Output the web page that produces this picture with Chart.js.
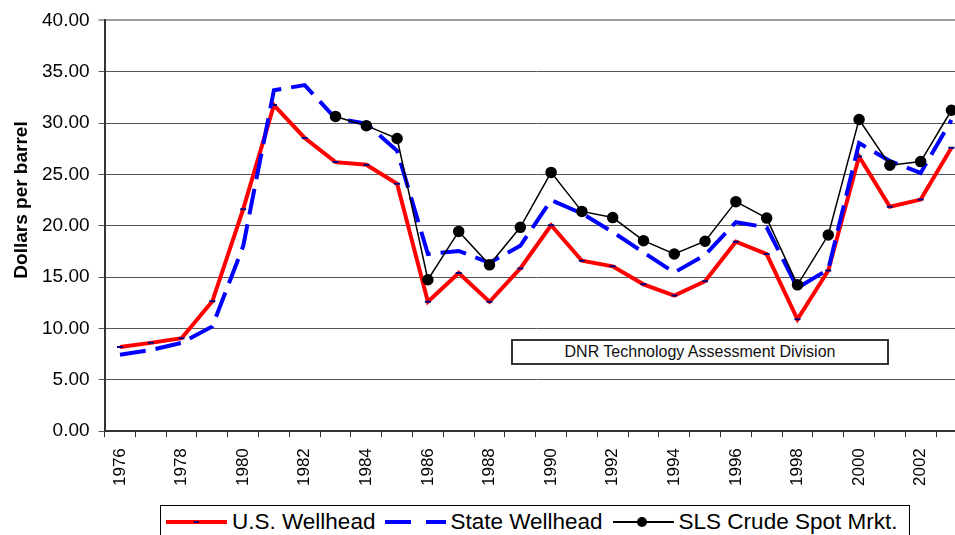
<!DOCTYPE html>
<html>
<head>
<meta charset="utf-8">
<title>Crude Oil Prices</title>
<script src="https://cdn.jsdelivr.net/npm/chart.js@4.4.1/dist/chart.umd.min.js"></script>
<style>
    body { margin: 0; background: #ffffff; font-family: "Liberation Sans", Arial, sans-serif; }
    #wrap { position: relative; width: 955px; height: 535px; overflow: hidden; background: #ffffff; }
    #chart { position: absolute; left: 0; top: 0; }
    #yTitle {
        position: absolute; left: -79px; top: 188px; width: 200px; height: 24px;
        line-height: 24px; text-align: center; font-weight: bold; font-size: 19px; color: #000;
        transform: rotate(-90deg);
    }
    #note {
        position: absolute; left: 511px; top: 339px; width: 378px; height: 26px; box-sizing: border-box;
        border: 2px solid #333; background: #fff; text-align: center; font-size: 16px; line-height: 22px; color: #111;
    }
    #legend {
        position: absolute; left: 160px; top: 505px; width: 750px; box-sizing: border-box;
        border: 1px solid #000; background: #fff; display: flex; align-items: center; padding-left: 5px;
        height: 34px; font-size: 22.5px; color: #000;
    }
    .sample { position: relative; width: 61px; height: 10px; margin-right: 5px; flex: none; }
    .txt { margin-right: 10px; white-space: nowrap; }
</style>
</head>
<body>
<div id="wrap">
    <canvas id="chart" width="983" height="535"></canvas>
    <div id="yTitle">Dollars per barrel</div>
    <div id="note">DNR Technology Assessment Division</div>
    <div id="legend"></div>
</div>
<script>
// Years on the x axis (every other one gets a label)
const years = ['1976', '1977', '1978', '1979', '1980', '1981', '1982', '1983', '1984', '1985',
    '1986', '1987', '1988', '1989', '1990', '1991', '1992', '1993', '1994', '1995',
    '1996', '1997', '1998', '1999', '2000', '2001', '2002', '2003'];

// Dollars per barrel
const usWellhead = [8.2, 8.6, 9.05, 12.65, 21.6, 31.75, 28.55, 26.2, 25.95, 24.1,
    12.6, 15.4, 12.6, 15.85, 20.05, 16.6, 16.05, 14.3, 13.2, 14.6,
    18.45, 17.25, 10.9, 15.65, 26.75, 21.85, 22.55, 27.6];
const stateWellhead = [7.45, 7.9, 8.6, 10.2, 18.0, 33.2, 33.7, 30.45, 29.95, 27.3,
    17.25, 17.55, 16.4, 18.05, 22.5, 21.2, 19.4, 17.4, 15.45, 17.15,
    20.35, 19.85, 13.95, 15.75, 28.05, 26.3, 25.15, 30.3];
const slsCrude = [null, null, null, null, null, null, null, 30.65, 29.75, 28.5,
    14.75, 19.45, 16.2, 19.85, 25.2, 21.4, 20.8, 18.55, 17.25, 18.5,
    22.35, 20.75, 14.25, 19.1, 30.35, 25.9, 26.25, 31.25];

// y axis ticks
const yMin = 0;
const yMax = 40;
const yStep = 5;

const seriesNames = ['U.S. Wellhead', 'State Wellhead', 'SLS Crude Spot Mrkt.'];

const FONT = '"Liberation Sans", Arial, sans-serif';

const buildLegend = () => {
    const legend = document.getElementById('legend');
    const samples = [
        // red line with the small navy marker
        '<div class="sample"><div style="position:absolute;left:0;top:3px;width:61px;height:4px;background:#ff0000"></div>' +
        '<div style="position:absolute;left:28px;top:4px;width:5px;height:2px;background:#000080"></div></div>',
        // blue dashes
        '<div class="sample" style="margin-right:4px"><div style="position:absolute;left:0;top:3px;width:61px;height:4px;' +
        'background:linear-gradient(to right,#0000ff 0 26px,transparent 26px 41px,#0000ff 41px 61px)"></div></div>',
        // black line with dot
        '<div class="sample"><div style="position:absolute;left:0;top:4px;width:61px;height:2px;background:#000"></div>' +
        '<div style="position:absolute;left:24px;top:0px;width:10px;height:10px;border-radius:50%;background:#000"></div></div>'
    ];
    legend.innerHTML = seriesNames.map((name, i) => samples[i] + '<span class="txt">' + name + '</span>').join('');
};

document.addEventListener('DOMContentLoaded', () => {
    buildLegend();

    const ctx = document.getElementById('chart').getContext('2d');

    new Chart(ctx, {
        type: 'line',
        data: {
            labels: years,
            datasets: [
                {
                    label: seriesNames[0],
                    data: usWellhead,
                    borderColor: '#ff0000',
                    borderWidth: 4,
                    pointStyle: 'line',
                    pointRadius: 3,
                    pointBorderColor: '#000080',
                    pointBorderWidth: 2,
                    tension: 0,
                    order: 3
                },
                {
                    label: seriesNames[1],
                    data: stateWellhead,
                    borderColor: '#0000ff',
                    borderWidth: 4,
                    borderDash: [26, 10],
                    pointRadius: 0,
                    tension: 0,
                    order: 2
                },
                {
                    label: seriesNames[2],
                    data: slsCrude,
                    borderColor: '#000000',
                    borderWidth: 1.5,
                    pointRadius: 5,
                    pointBackgroundColor: '#000000',
                    pointBorderColor: '#000000',
                    tension: 0,
                    order: 1
                }
            ]
        },
        options: {
            responsive: false,
            animation: false,
            layout: { padding: { left: 33, top: 9, right: 8, bottom: 38 } },
            scales: {
                x: {
                    offset: true,
                    grid: {
                        offset: true,
                        drawOnChartArea: false,
                        drawTicks: true,
                        tickLength: 6,
                        color: '#333333'
                    },
                    border: { display: true, color: '#333333', width: 2 },
                    ticks: {
                        autoSkip: false,
                        minRotation: 90,
                        maxRotation: 90,
                        padding: 11,
                        color: '#000000',
                        font: { size: 17, family: FONT },
                        callback: (value, index) => (index % 2 === 0 ? years[index] : '')
                    }
                },
                y: {
                    min: yMin,
                    max: yMax,
                    grid: {
                        drawTicks: true,
                        tickLength: 6,
                        color: c => (c.tick && c.tick.value === yMax ? '#a0a0a0' : '#555555'),
                        lineWidth: c => (c.tick && c.tick.value === yMax ? 2 : 1)
                    },
                    border: { display: true, color: '#333333', width: 2 },
                    ticks: {
                        stepSize: yStep,
                        padding: 9,
                        color: '#000000',
                        font: { size: 19, family: FONT },
                        callback: value => Number(value).toFixed(2)
                    }
                }
            },
            plugins: {
                legend: { display: false },
                tooltip: { enabled: false }
            }
        }
    });
});
</script>
</body>
</html>
